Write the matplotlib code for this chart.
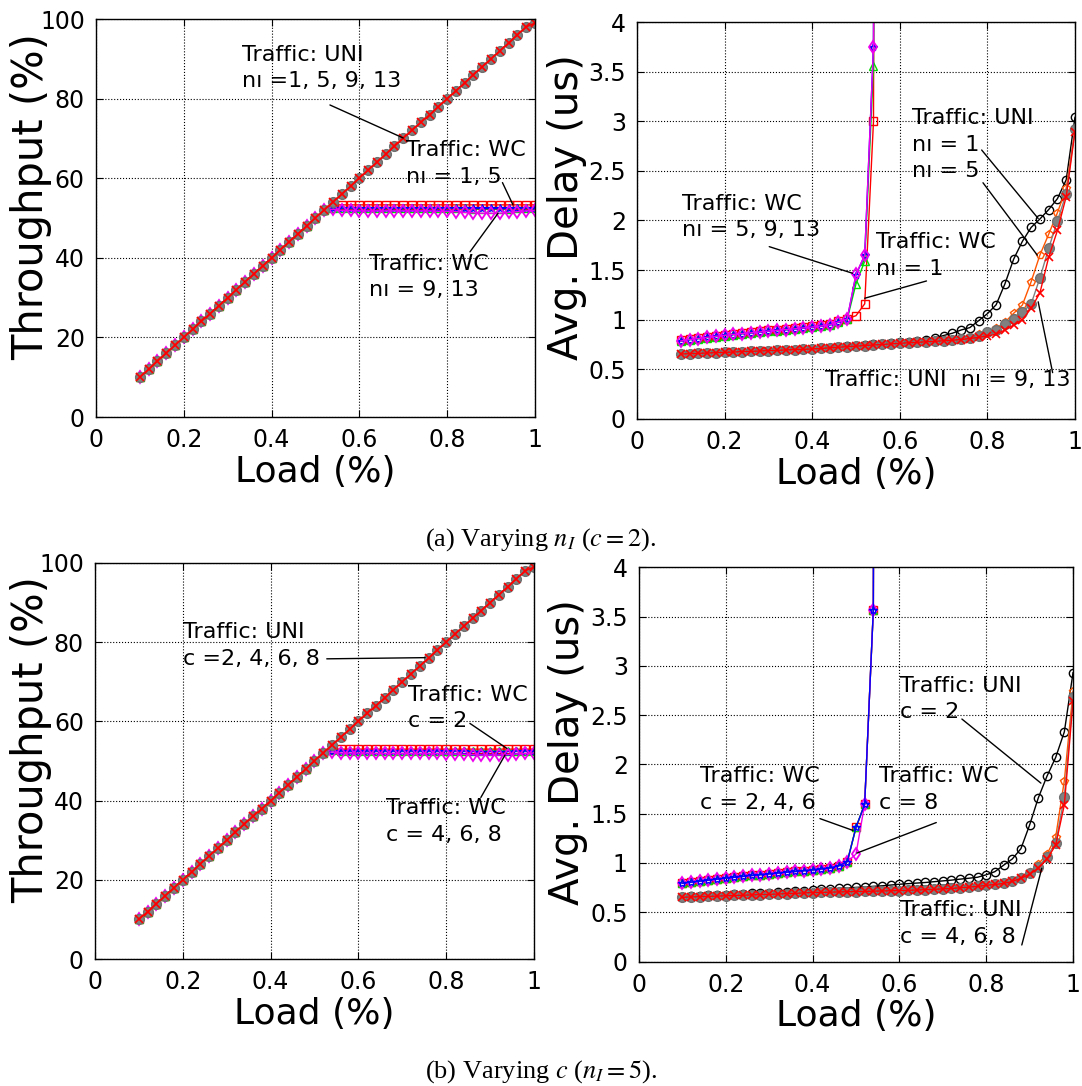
import matplotlib
matplotlib.use("Agg")
import matplotlib.pyplot as plt

plt.rcParams['mathtext.fontset'] = 'stix'

# ---------------------------------------------------------------- data
load = [0.10, 0.12, 0.14, 0.16, 0.18, 0.20, 0.22, 0.24, 0.26, 0.28,
        0.30, 0.32, 0.34, 0.36, 0.38, 0.40, 0.42, 0.44, 0.46, 0.48,
        0.50, 0.52, 0.54, 0.56, 0.58, 0.60, 0.62, 0.64, 0.66, 0.68,
        0.70, 0.72, 0.74, 0.76, 0.78, 0.80, 0.82, 0.84, 0.86, 0.88,
        0.90, 0.92, 0.94, 0.96, 0.98, 1.00]

# throughput (%) under uniform traffic: identical for every setting
tput_uni = [10, 12, 14, 16, 18, 20, 22, 24, 26, 28,
            30, 32, 34, 36, 38, 40, 42, 44, 46, 48,
            50, 52, 54, 56, 58, 60, 62, 64, 66, 68,
            70, 72, 74, 76, 78, 80, 82, 84, 86, 88,
            90, 92, 94, 96, 98, 99]

# worst-case traffic: linear part up to load 0.52, then saturation plateau
tput_wc_ramp = [10, 12, 14, 16, 18, 20, 22, 24, 26, 28,
                30, 32, 34, 36, 38, 40, 42, 44, 46, 48, 50, 52]
tput_a_wc1 = [53.3, 53.3, 53.3, 53.3, 53.3, 53.3, 53.3, 53.3, 53.3, 53.3, 53.3, 53.3,
              53.3, 53.3, 53.3, 53.3, 53.3, 53.3, 53.3, 53.3, 53.3, 53.3, 53.3, 53.3]
tput_a_wc5 = [52.5, 52.4, 52.4, 52.4, 52.4, 52.4, 52.4, 52.4, 52.4, 52.4, 52.4, 52.4,
              52.4, 52.4, 52.4, 52.4, 52.3, 52.3, 52.3, 52.3, 52.3, 52.4, 52.4, 52.4]
tput_a_wc9 = [52.6, 52.5, 52.5, 52.5, 52.5, 52.5, 52.5, 52.5, 52.5, 52.5, 52.5, 52.5,
              52.5, 52.5, 52.5, 52.5, 52.4, 52.4, 52.4, 52.4, 52.4, 52.5, 52.5, 52.5]
tput_a_wc13 = [52.2, 51.9, 51.9, 51.8, 51.8, 51.8, 51.8, 51.8, 51.8, 51.8, 51.8, 51.8,
               51.7, 51.7, 51.6, 51.4, 51.3, 51.2, 51.2, 51.2, 51.4, 51.6, 51.8, 51.9]

tput_b_wc2 = [53.0, 53.0, 53.0, 53.0, 53.0, 53.0, 53.0, 53.0, 53.0, 53.0, 53.0, 53.0,
              53.0, 53.0, 53.0, 53.0, 53.0, 53.0, 53.0, 53.0, 53.0, 53.0, 53.0, 53.0]
tput_b_wc4 = [52.7, 52.6, 52.6, 52.6, 52.6, 52.6, 52.6, 52.6, 52.6, 52.6, 52.6, 52.6,
              52.6, 52.6, 52.6, 52.6, 52.5, 52.5, 52.5, 52.5, 52.5, 52.6, 52.6, 52.6]
tput_b_wc6 = [52.6, 52.5, 52.5, 52.5, 52.5, 52.5, 52.5, 52.5, 52.5, 52.5, 52.5, 52.5,
              52.5, 52.5, 52.5, 52.5, 52.4, 52.4, 52.4, 52.4, 52.4, 52.5, 52.5, 52.5]
tput_b_wc8 = [52.3, 52.0, 52.0, 52.0, 52.0, 51.9, 51.9, 51.9, 51.9, 51.9, 51.9, 51.9,
              51.9, 51.8, 51.8, 51.7, 51.6, 51.5, 51.5, 51.5, 51.6, 51.8, 51.9, 52.0]

# average delay (us), uniform traffic, panel (a): n_I = 1, 5, 9, 13
delay_a_uni1 = [0.654, 0.657, 0.661, 0.664, 0.667, 0.671, 0.674, 0.678, 0.681, 0.684,
                0.688, 0.691, 0.695, 0.698, 0.701, 0.705, 0.710, 0.716, 0.724, 0.731,
                0.738, 0.745, 0.752, 0.759, 0.766, 0.772, 0.778, 0.785, 0.800, 0.815,
                0.840, 0.863, 0.896, 0.920, 0.990, 1.060, 1.150, 1.360, 1.610, 1.790,
                1.930, 2.015, 2.110, 2.220, 2.410, 3.040]
delay_a_uni5 = [0.654, 0.657, 0.661, 0.664, 0.667, 0.671, 0.674, 0.678, 0.681, 0.684,
                0.688, 0.691, 0.695, 0.698, 0.701, 0.705, 0.710, 0.716, 0.722, 0.728,
                0.733, 0.739, 0.745, 0.750, 0.756, 0.762, 0.767, 0.772, 0.777, 0.783,
                0.790, 0.798, 0.810, 0.830, 0.853, 0.873, 0.913, 0.974, 1.064, 1.148,
                1.383, 1.652, 1.861, 2.079, 2.325, 2.912]
delay_a_uni9 = [0.654, 0.657, 0.661, 0.664, 0.667, 0.671, 0.674, 0.678, 0.681, 0.684,
                0.688, 0.691, 0.695, 0.698, 0.701, 0.705, 0.710, 0.716, 0.722, 0.728,
                0.733, 0.739, 0.745, 0.750, 0.756, 0.762, 0.767, 0.772, 0.777, 0.782,
                0.788, 0.795, 0.805, 0.818, 0.835, 0.880, 0.900, 0.957, 1.010, 1.075,
                1.160, 1.420, 1.720, 1.995, 2.270, 2.920]
delay_a_uni13 = [0.654, 0.657, 0.661, 0.664, 0.667, 0.671, 0.674, 0.678, 0.681, 0.684,
                 0.688, 0.691, 0.695, 0.698, 0.701, 0.705, 0.710, 0.716, 0.722, 0.728,
                 0.733, 0.739, 0.745, 0.750, 0.756, 0.762, 0.767, 0.772, 0.777, 0.782,
                 0.787, 0.793, 0.800, 0.810, 0.822, 0.836, 0.853, 0.896, 0.946, 1.000,
                 1.115, 1.270, 1.630, 1.900, 2.240, 2.895]

# average delay (us), worst-case traffic, panel (a); the network saturates past 0.54
load_wc = [0.10, 0.12, 0.14, 0.16, 0.18, 0.20, 0.22, 0.24, 0.26, 0.28,
           0.30, 0.32, 0.34, 0.36, 0.38, 0.40, 0.42, 0.44, 0.46, 0.48,
           0.50, 0.52, 0.54, 0.56]
delay_a_wc1 = [0.790, 0.803, 0.814, 0.826, 0.836, 0.846, 0.856, 0.865, 0.874, 0.883,
               0.892, 0.900, 0.908, 0.917, 0.926, 0.936, 0.946, 0.958, 0.985, 1.010,
               1.040, 1.160, 3.000, 40.0]
delay_a_wc5 = [0.785, 0.798, 0.809, 0.820, 0.830, 0.840, 0.849, 0.858, 0.866, 0.874,
               0.883, 0.890, 0.898, 0.906, 0.915, 0.924, 0.934, 0.946, 0.975, 1.005,
               1.360, 1.590, 3.560, 40.0]
delay_a_wc9 = [0.785, 0.799, 0.810, 0.821, 0.831, 0.841, 0.850, 0.859, 0.867, 0.875,
               0.884, 0.891, 0.899, 0.907, 0.916, 0.925, 0.935, 0.947, 0.977, 1.007,
               1.450, 1.650, 3.750, 40.0]
delay_a_wc13 = [0.785, 0.800, 0.810, 0.822, 0.832, 0.842, 0.851, 0.860, 0.868, 0.876,
                0.885, 0.892, 0.900, 0.908, 0.917, 0.926, 0.936, 0.948, 0.978, 1.007,
                1.460, 1.650, 3.750, 40.0]

# average delay (us), uniform traffic, panel (b): c = 2, 4, 6, 8
delay_b_uni2 = [0.658, 0.662, 0.666, 0.670, 0.674, 0.678, 0.682, 0.687, 0.691, 0.695,
                0.699, 0.703, 0.708, 0.712, 0.717, 0.726, 0.731, 0.736, 0.741, 0.747,
                0.752, 0.757, 0.763, 0.768, 0.776, 0.784, 0.790, 0.796, 0.802, 0.810,
                0.818, 0.826, 0.836, 0.845, 0.855, 0.880, 0.912, 0.977, 1.040, 1.145,
                1.385, 1.660, 1.880, 2.070, 2.330, 2.930]
delay_b_uni4 = [0.652, 0.655, 0.658, 0.661, 0.664, 0.667, 0.670, 0.673, 0.676, 0.679,
                0.682, 0.685, 0.689, 0.692, 0.696, 0.700, 0.702, 0.704, 0.706, 0.708,
                0.710, 0.712, 0.714, 0.716, 0.718, 0.720, 0.723, 0.726, 0.729, 0.733,
                0.737, 0.742, 0.748, 0.755, 0.765, 0.777, 0.787, 0.797, 0.820, 0.855,
                0.905, 0.990, 1.090, 1.260, 1.835, 2.740]
delay_b_uni6 = [0.652, 0.655, 0.658, 0.661, 0.664, 0.667, 0.670, 0.673, 0.676, 0.679,
                0.682, 0.685, 0.689, 0.692, 0.696, 0.700, 0.702, 0.704, 0.706, 0.708,
                0.710, 0.712, 0.714, 0.716, 0.718, 0.720, 0.723, 0.726, 0.729, 0.733,
                0.737, 0.742, 0.748, 0.755, 0.764, 0.775, 0.784, 0.794, 0.815, 0.850,
                0.895, 0.960, 1.065, 1.200, 1.670, 2.680]
delay_b_uni8 = [0.652, 0.655, 0.658, 0.661, 0.664, 0.667, 0.670, 0.673, 0.676, 0.679,
                0.682, 0.685, 0.689, 0.692, 0.696, 0.700, 0.702, 0.704, 0.706, 0.708,
                0.710, 0.712, 0.714, 0.716, 0.718, 0.720, 0.723, 0.726, 0.729, 0.733,
                0.737, 0.742, 0.748, 0.755, 0.763, 0.773, 0.782, 0.792, 0.812, 0.845,
                0.885, 0.946, 1.040, 1.180, 1.590, 2.640]

delay_b_wc2 = [0.794, 0.805, 0.815, 0.826, 0.836, 0.846, 0.855, 0.864, 0.873, 0.882,
               0.890, 0.898, 0.906, 0.914, 0.922, 0.930, 0.940, 0.950, 0.970, 1.013,
               1.360, 1.595, 3.570, 40.0]
delay_b_wc4 = [0.794, 0.805, 0.815, 0.826, 0.836, 0.846, 0.855, 0.864, 0.873, 0.882,
               0.890, 0.898, 0.906, 0.914, 0.922, 0.930, 0.940, 0.950, 0.970, 1.013,
               1.360, 1.595, 3.570, 40.0]
delay_b_wc6 = [0.794, 0.805, 0.815, 0.826, 0.836, 0.846, 0.855, 0.864, 0.873, 0.882,
               0.890, 0.898, 0.906, 0.914, 0.922, 0.930, 0.940, 0.950, 0.970, 1.013,
               1.360, 1.595, 3.570, 40.0]
delay_b_wc8 = [0.794, 0.805, 0.815, 0.826, 0.836, 0.846, 0.855, 0.864, 0.873, 0.882,
               0.890, 0.898, 0.906, 0.914, 0.922, 0.930, 0.940, 0.950, 0.970, 1.013,
               1.090, 1.595, 3.570, 40.0]

x_ticks = [0, 0.2, 0.4, 0.6, 0.8, 1.0]
x_tick_labels = ['0', '0.2', '0.4', '0.6', '0.8', '1']
tput_ticks = [0, 20, 40, 60, 80, 100]
delay_ticks = [0, 0.5, 1, 1.5, 2, 2.5, 3, 3.5, 4]
delay_tick_labels = ['0', '0.5', '1', '1.5', '2', '2.5', '3', '3.5', '4']

# ---------------------------------------------------------------- styles
UNI_STYLES = [
    dict(color='black', marker='o', mfc='none', mec='black', ms=6),
    dict(color='#ff5500', marker='p', mfc='none', mec='#ff5500', ms=6),
    dict(color='#808080', marker='o', mfc='#808080', mec='#707070', ms=7),
    dict(color='red', marker='x', mec='red', ms=6, mew=1.2),
]
WC_STYLES = [
    dict(color='red', marker='s', mfc='none', mec='red', ms=6),
    dict(color='#00dd00', marker='^', mfc='none', mec='#00dd00', ms=6),
    dict(color='blue', marker='*', mfc='none', mec='blue', ms=6),
    dict(color='#ee00ee', marker='d', mfc='none', mec='#ee00ee', ms=6, mew=1.3),
]

TICK_FS = 17
XLABEL_FS = 26
ANN_FS = 16


def style_axes(ax, yticks, ylabels, ylim, ylabel, label_fs, label_xy):
    ax.set_xlim(0, 1)
    ax.set_ylim(*ylim)
    ax.set_xticks(x_ticks)
    ax.set_xticklabels(x_tick_labels)
    ax.set_yticks(yticks)
    ax.set_yticklabels(ylabels)
    ax.tick_params(direction='in', top=True, right=True, length=5,
                   labelsize=TICK_FS, pad=8)
    ax.grid(True, color='black', linestyle=':', linewidth=0.8)
    ax.set_axisbelow(True)
    for s in ax.spines.values():
        s.set_linewidth(1.0)
    ax.set_xlabel('Load (%)', fontsize=XLABEL_FS, labelpad=2)
    ax.set_ylabel(ylabel, fontsize=label_fs)
    ax.yaxis.set_label_coords(*label_xy)


def note(ax, text, xy, xytext, line_start=None):
    ax.text(xytext[0], xytext[1], text, fontsize=ANN_FS, ha='left', va='top',
            linespacing=1.4, zorder=5)
    if line_start is not None:
        ax.annotate('', xy=xy, xytext=line_start,
                    arrowprops=dict(arrowstyle='-', color='black', lw=1.0,
                                    shrinkA=0, shrinkB=0), zorder=5)


fig = plt.figure(figsize=(10.82, 10.86), dpi=100)

ax_a1 = fig.add_axes([0.0887, 0.6160, 0.4057, 0.3665])
ax_a2 = fig.add_axes([0.5887, 0.6143, 0.4048, 0.3654])
ax_b1 = fig.add_axes([0.0878, 0.1169, 0.4057, 0.3647])
ax_b2 = fig.add_axes([0.5905, 0.1146, 0.4012, 0.3631])

# ---------------------------------------------------------------- (a) throughput
for series, st in zip([tput_a_wc1, tput_a_wc5, tput_a_wc9, tput_a_wc13], WC_STYLES):
    ax_a1.plot(load, tput_wc_ramp + series, lw=1.0, **st)
for st in UNI_STYLES:
    ax_a1.plot(load, tput_uni, lw=1.0, **st)
style_axes(ax_a1, tput_ticks, [str(t) for t in tput_ticks], (0, 100),
           'Throughput (%)', 30, (-0.10, 0.555))
note(ax_a1, 'Traffic: UNI\nnı =1, 5, 9, 13', (0.70, 70.1), (0.332, 93.5), (0.533, 78.4))
note(ax_a1, 'Traffic: WC\nnı = 1, 5', (0.95, 53.3), (0.706, 69.5), (0.926, 58.9))
note(ax_a1, 'Traffic: WC\nnı = 9, 13', (0.916, 51.2), (0.623, 41.0), (0.852, 41.5))

# ---------------------------------------------------------------- (a) delay
for series, st in zip([delay_a_uni1, delay_a_uni5, delay_a_uni9, delay_a_uni13], UNI_STYLES):
    ax_a2.plot(load, series, lw=1.0, **st)
for series, st in zip([delay_a_wc1, delay_a_wc5, delay_a_wc9, delay_a_wc13], WC_STYLES):
    ax_a2.plot(load_wc, series, lw=1.0, **st)
style_axes(ax_a2, delay_ticks, delay_tick_labels, (0, 4),
           'Avg. Delay (us)', 29, (-0.113, 0.534))
note(ax_a2, 'Traffic: WC\nnı = 5, 9, 13', (0.492, 1.468), (0.103, 2.27), (0.302, 1.736))
note(ax_a2, 'Traffic: WC\nnı = 1', (0.52, 1.216), (0.545, 1.88), (0.661, 1.39))
note(ax_a2, 'Traffic: UNI\nnı = 1\nnı = 5', (0.916, 2.02), (0.627, 3.13), (0.787, 2.71))
ax_a2.annotate('', xy=(0.914, 1.65), xytext=(0.79, 2.38),
               arrowprops=dict(arrowstyle='-', color='black', lw=1.0, shrinkA=0, shrinkB=0))
note(ax_a2, 'Traffic: UNI  nı = 9, 13', (0.916, 1.18), (0.429, 0.49), (0.949, 0.466))

# ---------------------------------------------------------------- (b) throughput
for series, st in zip([tput_b_wc2, tput_b_wc4, tput_b_wc6, tput_b_wc8], WC_STYLES):
    ax_b1.plot(load, tput_wc_ramp + series, lw=1.0, **st)
for st in UNI_STYLES:
    ax_b1.plot(load, tput_uni, lw=1.0, **st)
style_axes(ax_b1, tput_ticks, [str(t) for t in tput_ticks], (0, 100),
           'Throughput (%)', 30, (-0.098, 0.553))
note(ax_b1, 'Traffic: UNI\nc =2, 4, 6, 8', (0.752, 76.1), (0.201, 85.0), (0.528, 75.8))
note(ax_b1, 'Traffic: WC\nc = 2', (0.938, 53.2), (0.714, 69.3), (0.854, 59.5))
note(ax_b1, 'Traffic: WC\nc = 4, 6, 8', (0.934, 51.5), (0.664, 40.6), (0.879, 40.8))

# ---------------------------------------------------------------- (b) delay
for series, st in zip([delay_b_uni2, delay_b_uni4, delay_b_uni6, delay_b_uni8], UNI_STYLES):
    ax_b2.plot(load, series, lw=1.0, **st)
for series, st in zip([delay_b_wc2, delay_b_wc4, delay_b_wc8, delay_b_wc6],
                      [WC_STYLES[0], WC_STYLES[1], WC_STYLES[3], WC_STYLES[2]]):
    ax_b2.plot(load_wc, series, lw=1.0, **st)
style_axes(ax_b2, delay_ticks, delay_tick_labels, (0, 4),
           'Avg. Delay (us)', 29, (-0.118, 0.532))
note(ax_b2, 'Traffic: UNI\nc = 2', (0.926, 1.81), (0.602, 2.90), (0.744, 2.46))
note(ax_b2, 'Traffic: WC\nc = 2, 4, 6', (0.493, 1.33), (0.141, 1.98), (0.417, 1.45))
note(ax_b2, 'Traffic: WC\nc = 8', (0.502, 1.10), (0.552, 1.98), (0.685, 1.41))
note(ax_b2, 'Traffic: UNI\nc = 4, 6, 8', (0.928, 0.946), (0.602, 0.62), (0.882, 0.168))

# ---------------------------------------------------------------- captions
fig.text(0.5, 1 - 546 / 1086, r'(a) Varying $n_I$ ($c = 2$).', ha='center', va='baseline',
         fontsize=19, family='Liberation Serif')
fig.text(0.5, 1 - 1078 / 1086, r'(b) Varying $c$ ($n_I = 5$).', ha='center', va='baseline',
         fontsize=19, family='Liberation Serif')

fig.savefig('out.png', dpi=100)
